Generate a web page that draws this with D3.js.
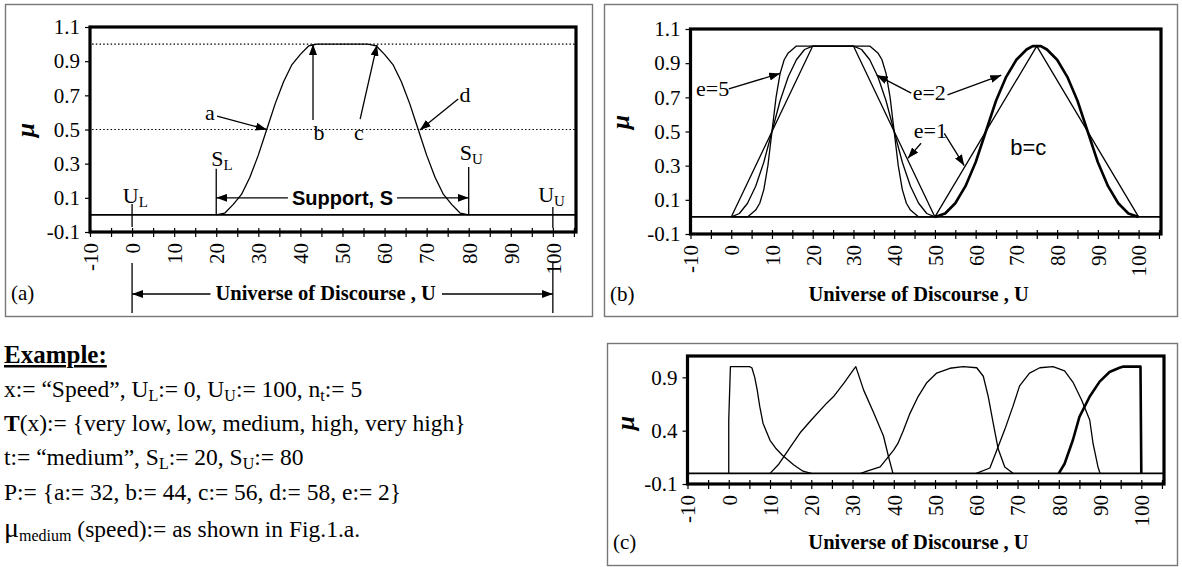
<!DOCTYPE html>
<html><head><meta charset="utf-8">
<script src="https://cdn.jsdelivr.net/npm/d3@7"></script>
<style>
body{margin:0;background:#fff}
svg{display:block}
text{fill:#000}
</style>
</head><body>
<svg id="chart" width="1182" height="567"></svg>
<script>
// ---------------- DATA ----------------
const xDomainVals = [-10, 105.5];
const yDomainVals = [-0.1, 1.1];
const xTickLabels = [-10, 0, 10, 20, 30, 40, 50, 60, 70, 80, 90, 100];
const xMinorTicks = [-10, -5, 0, 5, 10, 15, 20, 25, 30, 35, 40, 45, 50, 55, 60, 65, 70, 75, 80, 85, 90, 95, 100, 105];
const yTicksAB = [-0.1, 0.1, 0.3, 0.5, 0.7, 0.9, 1.1];
const yTicksC = [-0.1, 0.4, 0.9];
const dottedLevelsA = [1.0, 0.5];

// Fig (a): "medium" membership function [U, mu]
const aMedium = [[20,0],[22,0.01],[24,0.06],[26,0.12],[28,0.22],[30,0.35],[32,0.5],[34,0.65],[36,0.78],[38,0.88],[40,0.94],[42,0.99],[44,1],[56,1],[58,0.99],[60,0.94],[62,0.88],[64,0.78],[66,0.65],[68,0.5],[70,0.35],[72,0.22],[74,0.12],[76,0.06],[78,0.01],[80,0]];

// Fig (b): trapezoid with e = 1, 2, 5 and triangle (b=c) with e = 1, 2
const bTrapE1 = [[0,0],[10,0.5],[20,1],[30,1],[40,0.5],[50,0]];
const bTrapE2 = [[0,0],[2,0.02],[4,0.08],[6,0.18],[8,0.32],[10,0.5],[12,0.68],[14,0.82],[16,0.92],[18,0.98],[20,1],[30,1],[32,0.98],[34,0.92],[36,0.82],[38,0.68],[40,0.5],[42,0.32],[44,0.18],[46,0.08],[48,0.02],[50,0]];
const bTrapE5 = [[0,0],[4,0],[5,0.02],[6,0.04],[7,0.08],[8,0.16],[9,0.3],[10,0.5],[11,0.7],[12,0.84],[13,0.92],[14,0.96],[15,0.98],[16,1],[34,1],[35,0.98],[36,0.96],[37,0.92],[38,0.84],[39,0.7],[40,0.5],[41,0.3],[42,0.16],[43,0.08],[44,0.04],[45,0.02],[46,0],[50,0]];
const bTriE1 = [[50,0],[75,1],[100,0]];
const bTriE2 = [[50,0],[52.5,0.02],[55,0.08],[57.5,0.18],[60,0.32],[62.5,0.5],[65,0.68],[67.5,0.82],[70,0.92],[72.5,0.98],[74,1],[76,1],[77.5,0.98],[80,0.92],[82.5,0.82],[85,0.68],[87.5,0.5],[90,0.32],[92.5,0.18],[95,0.08],[97.5,0.02],[100,0]];

// Fig (c): five terms
const cVeryLow = [[0,0],[0,0.5],[0.4,1],[5,1],[5.6,0.99],[6.3,0.9],[6.9,0.78],[7.5,0.63],[8.3,0.47],[10,0.31],[11.5,0.23],[13,0.17],[15.7,0.08],[18,0.02],[20,0]];
const cLow = [[10,0],[12,0.08],[15,0.25],[17.3,0.38],[20,0.5],[23.8,0.66],[25.4,0.72],[28,0.85],[30.2,0.97],[30.8,1],[32.7,0.78],[35.1,0.57],[37.5,0.35],[38.7,0.16],[39.8,0]];
const cMedium = [[32,0],[33.5,0.02],[36.7,0.06],[39,0.17],[40,0.22],[41,0.28],[42.3,0.4],[43.9,0.56],[45.9,0.72],[48,0.85],[50.4,0.94],[53.6,0.985],[56.8,1],[60.1,0.99],[61.7,0.91],[62.9,0.72],[64.1,0.47],[65.3,0.23],[66.9,0.06],[68.9,0]];
const cHigh = [[60,0],[63.3,0.05],[64.9,0.21],[66.9,0.41],[68.9,0.63],[70.5,0.82],[72.9,0.94],[75.4,0.99],[78.6,1],[81.4,0.96],[83.5,0.85],[85.5,0.69],[87.5,0.5],[88.3,0.28],[89.5,0.06],[90,0]];
const cVeryHigh = [[80,0],[81.4,0.09],[83.4,0.31],[85,0.53],[87.5,0.72],[89.9,0.86],[92.3,0.95],[94.7,0.99],[95.5,1],[99.8,1],[100,0]];

// Example text lines (segments: [text, style]) style: n normal, s subscript, b bold
const exampleTitle = "Example:";
const exampleLines = [
  [["x:= \u201cSpeed\u201d, U","n"],["L","s"],[":= 0, U","n"],["U","s"],[":= 100, n","n"],["t","s"],[":= 5","n"]],
  [["T","b"],["(x):= {very low, low, medium, high, very high}","n"]],
  [["t:= \u201cmedium\u201d, S","n"],["L","s"],[":= 20, S","n"],["U","s"],[":= 80","n"]],
  [["P:= {a:= 32, b:= 44, c:= 56, d:= 58, e:= 2}","n"]],
  [["\u03bc","mu"],["medium","s"],[" (speed):= as shown in Fig.1.a.","n"]]
];

// ---------------- DRAW ----------------
const SERIF = "'Liberation Serif','Times New Roman',serif";
const SANS = "'Liberation Sans',Arial,sans-serif";
const svg = d3.select("#chart");
const defs = svg.append("defs");
defs.append("marker").attr("id","ah").attr("viewBox","0 0 11 8")
  .attr("refX",11).attr("refY",4).attr("markerWidth",11).attr("markerHeight",8)
  .attr("markerUnits","userSpaceOnUse").attr("orient","auto")
  .append("path").attr("d","M0,0L11,4L0,8Z").attr("fill","#000");

function makePanel(p){
  const g = svg.append("g");
  g.append("rect").attr("x",p.box[0]).attr("y",p.box[1])
    .attr("width",p.box[2]-p.box[0]).attr("height",p.box[3]-p.box[1])
    .attr("fill","none").attr("stroke","#777").attr("stroke-width",1.4);
  const x = d3.scaleLinear().domain(xDomainVals).range([p.left,p.right]);
  const y = d3.scaleLinear().domain(yDomainVals).range([p.bottom,p.top]);

  const ya = g.append("g").attr("transform",`translate(${p.left},0)`)
    .call(d3.axisLeft(y).tickValues(p.yTicks).tickFormat(d=>d.toFixed(1)).tickSize(5).tickPadding(5));
  ya.attr("font-family",SERIF).attr("font-size",p.tickFont);
  ya.select(".domain").remove();
  ya.selectAll("line").attr("stroke-width",1.2);

  const xd = g.append("g").attr("transform",`translate(0,${p.bottom})`)
    .call(d3.axisBottom(x).tickValues(xMinorTicks).tickSize(5).tickFormat(""));
  const xu = g.append("g").attr("transform",`translate(0,${p.bottom})`)
    .call(d3.axisTop(x).tickValues(xMinorTicks).tickSize(4).tickFormat(""));
  [xd,xu].forEach(a=>{a.select(".domain").remove(); a.selectAll("line").attr("stroke-width",1.2);});

  const xl = g.append("g").attr("transform",`translate(0,${p.bottom})`)
    .call(d3.axisBottom(x).tickValues(xTickLabels).tickSize(0).tickFormat(d=>String(d)));
  xl.attr("font-family",SERIF).attr("font-size",p.tickFont);
  xl.select(".domain").remove();
  xl.selectAll("text").attr("transform","rotate(-90)").attr("x",-p.xLabelGap)
    .attr("y",0).attr("dy","0.35em").attr("text-anchor","end");

  // y label
  g.append("text").attr("transform",`translate(${p.muPos[0]},${p.muPos[1]}) rotate(-90)`)
    .attr("text-anchor","middle").attr("dy","0.35em")
    .attr("font-family",SERIF).attr("font-style","italic").attr("font-weight","bold")
    .attr("font-size",26).text("\u03bc");

  // baseline mu = 0
  g.append("line").attr("x1",x.range()[0]).attr("x2",x.range()[1])
    .attr("y1",y(0)).attr("y2",y(0)).attr("stroke","#000").attr("stroke-width",1.6);

  // title
  const t = g.append("text").attr("x",x(p.titleAt)).attr("y",p.titleY).attr("text-anchor","middle")
    .attr("font-family",SERIF).attr("font-weight","bold").attr("font-size",p.titleFont)
    .text("Universe of Discourse , U");
  g.append("text").attr("x",p.tag[1]).attr("y",p.tag[2]).attr("font-family",SERIF)
    .attr("font-size",21).text(p.tag[0]);
  return {g,x,y,title:t};
}
function frame(P){
  P.g.append("rect").attr("x",P.x.range()[0]).attr("y",P.y.range()[1])
    .attr("width",P.x.range()[1]-P.x.range()[0]).attr("height",P.y.range()[0]-P.y.range()[1])
    .attr("fill","none").attr("stroke","#000").attr("stroke-width",3.2);
}
function curve(P,data,w){
  const line = d3.line().x(d=>P.x(d[0])).y(d=>P.y(d[1]));
  P.g.append("path").attr("d",line(data)).attr("fill","none").attr("stroke","#000")
    .attr("stroke-width",w).attr("stroke-linejoin","round");
}
function arrow(P,x1,y1,x2,y2){
  P.g.append("line").attr("x1",P.x(x1)).attr("y1",P.y(y1)).attr("x2",P.x(x2)).attr("y2",P.y(y2))
    .attr("stroke","#000").attr("stroke-width",1.3).attr("marker-end","url(#ah)");
}
function vline(P,xv,m1,m2){
  P.g.append("line").attr("x1",P.x(xv)).attr("x2",P.x(xv)).attr("y1",P.y(m1)).attr("y2",P.y(m2))
    .attr("stroke","#000").attr("stroke-width",1.3);
}
function label(P,xv,m,txt,opts={}){
  const sz = opts.size||22;
  const t = P.g.append("text").attr("x",P.x(xv)).attr("y",P.y(m))
    .attr("font-family",opts.font||SERIF).attr("font-size",sz)
    .attr("font-weight",opts.weight||"normal").attr("text-anchor",opts.anchor||"middle");
  t.append("tspan").text(txt);
  if(opts.sub) t.append("tspan").attr("font-size",sz*0.68).attr("dy",4).text(opts.sub);
  return t;
}

// ----- Panel (a)
const A = makePanel({box:[5.5,4.5,592.5,316.5],left:90,right:576,top:27,bottom:232,
  yTicks:yTicksAB,tickFont:21,xLabelGap:11,muPos:[25,130],titleAt:46,titleY:300,titleFont:20.5,tag:["(a)",11,300]});
dottedLevelsA.forEach(lv=>{
  A.g.append("line").attr("x1",A.x(-9.5)).attr("x2",A.x.range()[1]).attr("y1",A.y(lv)).attr("y2",A.y(lv))
    .attr("stroke","#000").attr("stroke-width",1.1).attr("stroke-dasharray","1.5,2.2");
});
curve(A,aMedium,1.3);
// markers
vline(A,20,0.27,0); vline(A,80,0.28,0); vline(A,0,0.064,-0.07); vline(A,100,0.046,-0.077);
label(A,18.8,0.286,"S",{anchor:"start",sub:"L"});
label(A,77.9,0.321,"S",{anchor:"start",sub:"U"});
label(A,-2.2,0.07,"U",{anchor:"start",sub:"L"});
label(A,96.5,0.076,"U",{anchor:"start",sub:"U"});
label(A,18.5,0.556,"a"); arrow(A,20.2,0.579,32,0.5);
label(A,44.4,0.4386,"b"); arrow(A,43,0.556,43,1.0);
label(A,53.9,0.4386,"c"); arrow(A,54.2,0.561,58.2,0.995);
label(A,79.1,0.661,"d"); arrow(A,77.5,0.679,68.4,0.497);
// support arrow
{
  const st = label(A,50,0.058,"Support, S",{font:SANS,weight:"bold",size:20});
  const bb = st.node().getBBox();
  const ym = A.y(0.1);
  A.g.append("line").attr("x1",bb.x-4).attr("x2",A.x(20)).attr("y1",ym).attr("y2",ym)
    .attr("stroke","#000").attr("stroke-width",1.3).attr("marker-end","url(#ah)");
  A.g.append("line").attr("x1",bb.x+bb.width+4).attr("x2",A.x(80)).attr("y1",ym).attr("y2",ym)
    .attr("stroke","#000").attr("stroke-width",1.3).attr("marker-end","url(#ah)");
}
// universe arrow
{
  const bb = A.title.node().getBBox();
  const ym = 294;
  [0,100].forEach(v=>A.g.append("line").attr("x1",A.x(v)).attr("x2",A.x(v)).attr("y1",263).attr("y2",313)
    .attr("stroke","#000").attr("stroke-width",1.3));
  A.g.append("line").attr("x1",bb.x-5).attr("x2",A.x(0)).attr("y1",ym).attr("y2",ym)
    .attr("stroke","#000").attr("stroke-width",1.3).attr("marker-end","url(#ah)");
  A.g.append("line").attr("x1",bb.x+bb.width+6).attr("x2",A.x(100)).attr("y1",ym).attr("y2",ym)
    .attr("stroke","#000").attr("stroke-width",1.3).attr("marker-end","url(#ah)");
}
frame(A);

// ----- Panel (b)
const B = makePanel({box:[604.5,4.5,1177.5,316.5],left:690.5,right:1161,top:29,bottom:234,
  yTicks:yTicksAB,tickFont:21,xLabelGap:11,muPos:[620,122],titleAt:46,titleY:301,titleFont:20.5,tag:["(b)",610,301]});
curve(B,bTrapE1,1.3); curve(B,bTrapE2,1.3); curve(B,bTrapE5,1.3);
curve(B,bTriE1,1.3); curve(B,bTriE2,2.6);
label(B,-8.65,0.708,"e=5",{anchor:"start"}); arrow(B,-0.6,0.749,12,0.84);
label(B,48.6,0.684,"e=2"); arrow(B,44.2,0.725,35.7,0.83); arrow(B,53.1,0.714,66.3,0.83);
label(B,48.9,0.462,"e=1"); arrow(B,46.6,0.431,43.35,0.343); arrow(B,52.3,0.489,57.2,0.3);
label(B,72.9,0.362,"b=c",{font:SANS,size:22});
frame(B);

// ----- Panel (c)
const C = makePanel({box:[607.5,343.5,1177.5,565.5],left:687.5,right:1164,top:356,bottom:484,
  yTicks:yTicksC,tickFont:21,xLabelGap:11,muPos:[625,423],titleAt:46,titleY:549,titleFont:20.5,tag:["(c)",613,549]});
curve(C,cVeryLow,1.3); curve(C,cLow,1.3); curve(C,cMedium,1.3); curve(C,cHigh,1.3); curve(C,cVeryHigh,2.6);
frame(C);

// ----- Example text
const ex = svg.append("g").attr("font-family",SERIF);
ex.append("text").attr("x",4).attr("y",363).attr("font-size",25).attr("font-weight","bold")
  .attr("text-decoration","underline").text(exampleTitle);
const baselines = [397, 431, 465, 500, 537];
exampleLines.forEach((segs,i)=>{
  const t = ex.append("text").attr("x",4).attr("y",baselines[i]).attr("font-size",23.5);
  let sub=false;
  segs.forEach(([s,st])=>{
    const ts = t.append("tspan").text(s);
    if(st==="s"){ ts.attr("font-size",16).attr("dy",sub?0:4); sub=true; }
    else { if(sub){ ts.attr("dy",-4); sub=false; } }
    if(st==="b") ts.attr("font-weight","bold");
    if(st==="mu") ts.attr("font-size",28);
  });
});
</script>
</body></html>
